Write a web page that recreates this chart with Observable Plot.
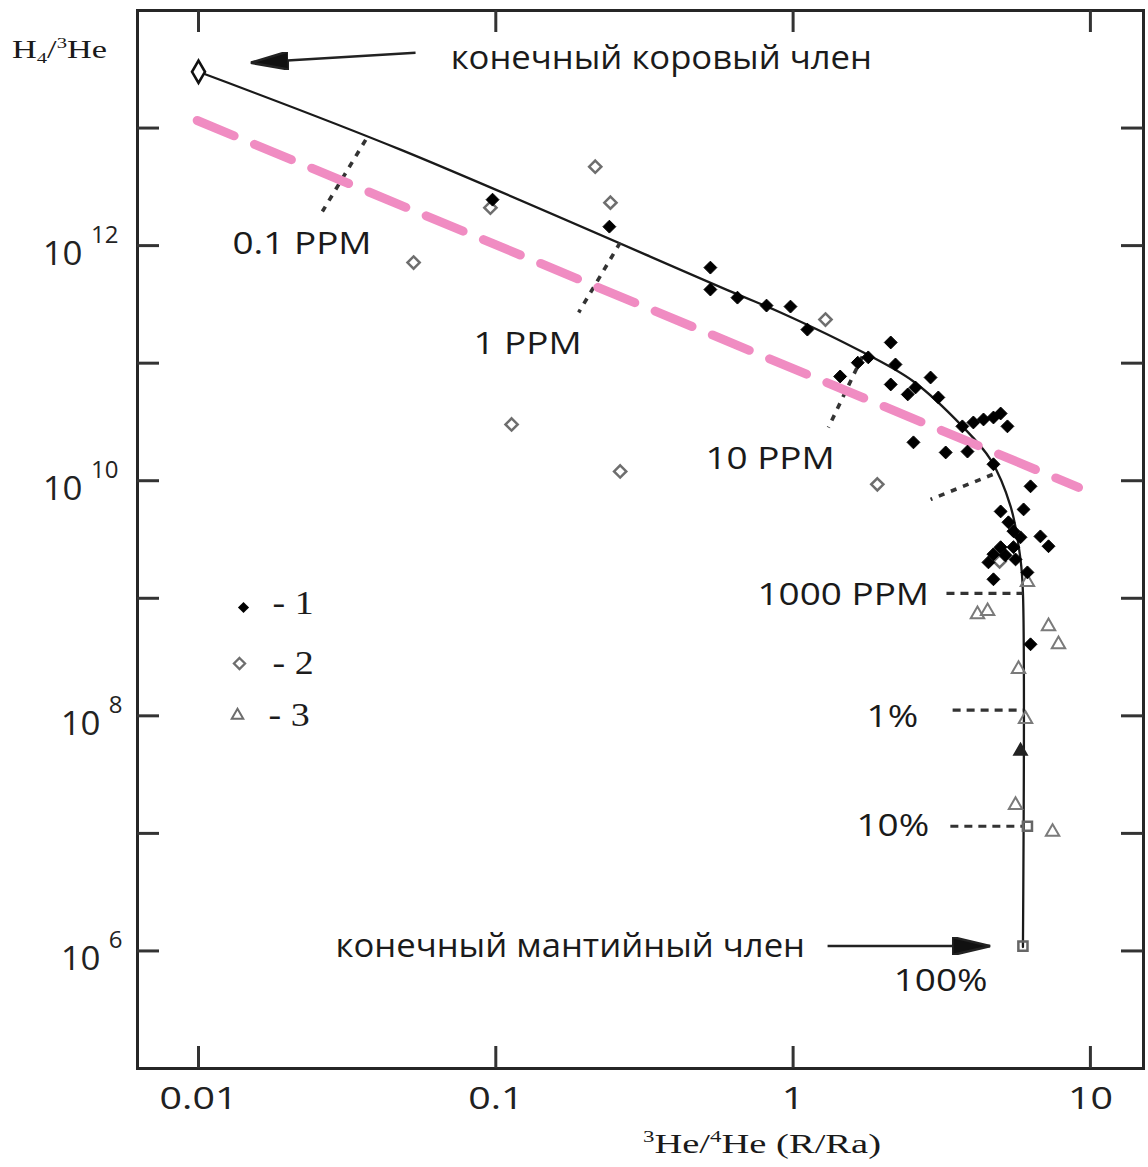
<!DOCTYPE html>
<html>
<head>
<meta charset="utf-8">
<script src="https://cdn.jsdelivr.net/npm/d3@7"></script>
<script src="https://cdn.jsdelivr.net/npm/@observablehq/plot@0.6"></script>
<style>
  html, body { margin: 0; padding: 0; background: #fff; overflow: hidden; }
  #chart { width: 1148px; height: 1167px; }
</style>
</head>
<body>
<div id="chart"></div>
<script>
// ---------- axis ticks ----------
const xTicks = [0.01, 0.1, 1, 10];
const xTickLabels = ["0.01", "0.1", "1", "10"];
const yTicks = [1e6, 1e7, 1e8, 1e9, 1e10, 1e11, 1e12, 1e13];
const yLabelTicks = [1e12, 1e10, 1e8, 1e6];
const yLabelExps = ["12", "10", "8", "6"];

// ---------- series 1 (filled diamonds) ----------
const s1x = [0.0975,0.241,0.527,0.527,0.65,0.814,0.98,1.117,2.13,1.79,1.65,1.44,2.21,2.13,2.43,2.58,2.90,3.08,3.71,4.04,4.37,4.72,4.99,5.26,2.54,3.26,3.86,4.72,6.29,5.96,4.99,5.30,5.51,5.82,6.79,7.23,4.99,4.72,5.18,5.51,6.14,4.72,6.29,5.60,4.54];
const s1y = [2.46e12,1.45e12,6.50e11,4.23e11,3.61e11,3.09e11,3.03e11,1.93e11,1.50e11,1.12e11,1.01e11,7.71e10,9.75e10,6.59e10,5.42e10,6.21e10,7.55e10,5.11e10,2.90e10,3.13e10,3.32e10,3.45e10,3.73e10,2.90e10,2.12e10,1.74e10,1.77e10,1.38e10,8.96e9,5.70e9,5.48e9,4.43e9,3.72e9,3.30e9,3.36e9,2.77e9,2.72e9,2.37e9,2.32e9,2.72e9,1.66e9,1.45e9,4.06e8,2.14e9,2.02e9];

// ---------- series 2 (open diamonds) ----------
const s2x = [0.0959,0.0529,0.216,0.243,0.113,0.262,1.285,1.92,4.95];
const s2y = [2.10e12,7.18e11,4.69e12,2.32e12,3.01e10,1.20e10,2.35e11,9.31e9,2.06e9];

// ---------- series 3 (open triangles) ----------
const s3x = [6.14,4.17,4.51,7.23,7.81,5.73,6.05,5.60,7.46];
const s3y = [1.37e9,7.31e8,7.76e8,5.78e8,4.06e8,2.50e8,9.38e7,1.74e7,1.03e7];
const s3filledX = [5.82];
const s3filledY = [5.01e7];

// ---------- squares ----------
const sqX = [6.14, 5.93];
const sqY = [1.15e7, 1.10e6];

// ---------- end members ----------
const crustX = [0.01];
const crustY = [3.01e13];

// ---------- mixing curve ----------
const curveX = [0.01,0.0478,0.630,0.907,1.725,2.54,3.71,4.61,5.39,5.82,5.93,5.93];
const curveY = [3.01e13,6.55e12,3.98e11,2.70e11,1.23e11,6.98e10,2.90e10,1.52e10,6.05e9,2.14e9,1.12e9,1.08e6];

// ---------- pink dashed line ----------
const pinkX = [0.0099, 9.12];
const pinkY = [1.16e13, 8.77e9];

// ---------- PPM dotted marks ----------
const ppmX1 = [0.0365, 0.262, 1.71, 4.69];
const ppmY1 = [7.94e12, 1.06e12, 1.14e11, 1.13e10];
const ppmX2 = [0.0261, 0.190, 1.315, 2.90];
const ppmY2 = [1.95e12, 2.70e11, 2.84e10, 6.93e9];
const hX1 = [3.28, 3.44, 3.38];
const hX2 = [5.93, 5.93, 5.93];
const hY = [1.10e9, 1.12e8, 1.15e7];

// ---------- annotation labels ----------
const labelText = ["0.1 PPM", "1 PPM", "10 PPM", "1000 PPM", "1%", "10%", "100%"];
const labelX = [0.01301, 0.0841, 0.507, 0.759, 1.766, 1.634, 2.18];
const labelY = [1.04e12, 1.44e11, 1.52e10, 1.06e9, 9.75e7, 1.15e7, 5.56e5];

const memberText = ["конечный коровый член", "конечный мантийный член"];
const memberX = [0.0705, 0.0289];
const memberY = [3.88e13, 1.10e6];

// ---------- arrows ----------
const arrowX1 = [0.0537, 1.306];
const arrowY1 = [4.37e13, 1.10e6];
const arrowX2 = [0.01497, 4.61];
const arrowY2 = [3.59e13, 1.10e6];

// ---------- legend ----------
const legendLabels = ["- 1", "- 2", "- 3"];

// ===================================================
const W = 1148, H = 1167, mL = 137, mR = 5, mT = 10, mB = 99;
const fw = W - mL - mR, fh = H - mT - mB;
const tickLen = 22;
const sans = "'Open Sans', 'Noto Sans', sans-serif";
const serif = "'Liberation Serif', 'DejaVu Serif', serif";
// distinct text colours (near-black) used to find each label group afterwards
const C_XT = "#212121", C_YB = "#222222", C_YE = "#232323", C_PPM = "#1a1a1a", C_MEM = "#1b1b1b", C_LEG = "#1c1c1c";

const headMarker = (color, context) =>
  d3.create("svg:marker")
    .attr("viewBox", "0 -9 38 18")
    .attr("markerUnits", "userSpaceOnUse")
    .attr("markerWidth", 38)
    .attr("markerHeight", 18)
    .attr("refX", 38)
    .attr("refY", 0)
    .attr("orient", "auto")
    .call(m => m.append("path").attr("d", "M0,-9L38,0L0,9Z").attr("fill", "#111"))
    .node();

const marks = [
  Plot.frame({stroke: "#262626", strokeWidth: 3}),
  Plot.tickY(yTicks, {y: d => d, insetRight: fw - tickLen, stroke: "#333", strokeWidth: 3}),
  Plot.tickY(yTicks, {y: d => d, insetLeft: fw - tickLen, stroke: "#333", strokeWidth: 3}),
  Plot.tickX(xTicks, {x: d => d, insetTop: fh - tickLen, stroke: "#333", strokeWidth: 3}),
  Plot.tickX(xTicks, {x: d => d, insetBottom: fh - tickLen, stroke: "#333", strokeWidth: 3}),
  Plot.text(xTicks, {x: d => d, text: (d, i) => xTickLabels[i], frameAnchor: "bottom", lineAnchor: "top", dy: 18,
    fontSize: 31, fontFamily: sans, fill: C_XT}),
];

yLabelTicks.forEach((t, i) => {
  const two = yLabelExps[i].length === 2;
  marks.push(Plot.text([t], {y: d => d, text: () => "10", frameAnchor: "left", textAnchor: "end", lineAnchor: "bottom",
    dx: (two ? 82 : 100) - mL, dy: 19, fontSize: 32, fontFamily: sans, fill: C_YB}));
  marks.push(Plot.text([t], {y: d => d, text: () => yLabelExps[i], frameAnchor: "left", textAnchor: "end", lineAnchor: "bottom",
    dx: (two ? 118 : 122) - mL, dy: -3, fontSize: 24, fontFamily: sans, fill: C_YE}));
});

marks.push(
  // mixing curve
  Plot.line(curveX, {x: curveX, y: curveY, curve: "catmull-rom", stroke: "#1a1a1a", strokeWidth: 2.3}),
  // PPM dotted marks
  Plot.link(ppmX1, {x1: ppmX1, y1: ppmY1, x2: ppmX2, y2: ppmY2, stroke: "#333", strokeWidth: 3.6, strokeDasharray: "6,7"}),
  Plot.link(hX1, {x1: hX1, y1: hY, x2: hX2, y2: hY, stroke: "#333", strokeWidth: 3.2, strokeDasharray: "8,6"}),
  // pink dashed
  Plot.line(pinkX, {x: pinkX, y: pinkY, stroke: "#f08cc2", strokeWidth: 9, strokeDasharray: "40,22"}),
  // points
  Plot.dot(s2x, {x: s2x, y: s2y, symbol: "diamond2", r: 5.5, stroke: "#6e6e6e", strokeWidth: 2.5, fill: "none"}),
  Plot.dot(s3x, {x: s3x, y: s3y, symbol: "triangle2", r: 6.4, stroke: "#7a7a7a", strokeWidth: 2, fill: "none"}),
  Plot.dot(s3filledX, {x: s3filledX, y: s3filledY, symbol: "triangle2", r: 6, stroke: "#222", strokeWidth: 2, fill: "#222"}),
  Plot.dot(sqX, {x: sqX, y: sqY, symbol: "square2", r: 5.8, stroke: "#666", strokeWidth: 2.5, fill: "none"}),
  Plot.dot(s1x, {x: s1x, y: s1y, symbol: "diamond2", r: 5.8, fill: "#000", stroke: "#000", strokeWidth: 1}),
  Plot.dot(crustX, {x: crustX, y: crustY, symbol: "diamond", r: 6.8, stroke: "#111", strokeWidth: 2.6, fill: "white"}),
  // arrows
  Plot.link(arrowX1, {x1: arrowX1, y1: arrowY1, x2: arrowX2, y2: arrowY2, stroke: "#222", strokeWidth: 2.5, markerEnd: headMarker}),
  // labels
  Plot.text(labelText, {x: labelX, y: labelY, text: labelText, textAnchor: "start", lineAnchor: "middle",
    fontSize: 31, fontFamily: sans, fill: C_PPM}),
  Plot.text(memberText, {x: memberX, y: memberY, text: memberText, textAnchor: "start", lineAnchor: "middle",
    fontSize: 33, fontFamily: sans, fill: C_MEM}),
  // legend
  Plot.dot([0], {frameAnchor: "top-left", dx: 106, dy: 597, symbol: "diamond2", r: 5, fill: "#000"}),
  Plot.dot([0], {frameAnchor: "top-left", dx: 102, dy: 653, symbol: "diamond2", r: 5, stroke: "#6e6e6e", strokeWidth: 2.3, fill: "none"}),
  Plot.dot([0], {frameAnchor: "top-left", dx: 100, dy: 705, symbol: "triangle2", r: 5.5, stroke: "#6e6e6e", strokeWidth: 2, fill: "none"})
);
[593, 653, 705].forEach((dy, i) => {
  marks.push(Plot.text([legendLabels[i]], {frameAnchor: "top-left", dx: i === 2 ? 131 : 135, dy, text: d => d,
    textAnchor: "start", lineAnchor: "middle", fontSize: 33, fontFamily: serif, fill: C_LEG}));
});

const chart = Plot.plot({
  width: W, height: H,
  marginLeft: mL, marginRight: mR, marginTop: mT, marginBottom: mB,
  x: {type: "log", domain: [Math.pow(10, -2.2052), Math.pow(10, 1.1786)], axis: null},
  y: {type: "log", domain: [1e5, 1e14], axis: null},
  style: {background: "white", overflow: "visible"},
  marks
});

document.getElementById("chart").appendChild(chart);

const svg = d3.select(chart);

// widen glyphs to match the reference's horizontally stretched lettering
function stretch(fill, k) {
  svg.selectAll(`g[fill="${fill}"] text`).each(function () {
    const L = this.getComputedTextLength();
    this.setAttribute("textLength", L * k);
    this.setAttribute("lengthAdjust", "spacingAndGlyphs");
  });
}
stretch(C_XT, 1.27);
stretch(C_YB, 1.09);
stretch(C_PPM, 1.19);
stretch(C_MEM, 1.05);
stretch(C_LEG, 1.15);

// axis titles with sub/superscripts
const yt = svg.append("text")
  .attr("x", 12).attr("y", 58).attr("text-anchor", "start").attr("font-weight", "normal")
  .attr("font-family", serif).attr("font-size", 25).attr("fill", "#1a1a1a")
  .attr("textLength", 95).attr("lengthAdjust", "spacingAndGlyphs");
yt.append("tspan").text("H");
yt.append("tspan").attr("font-size", 15).attr("dy", 5).text("4");
yt.append("tspan").attr("dy", -5).text("/");
yt.append("tspan").attr("font-size", 15).attr("dy", -10).text("3");
yt.append("tspan").attr("dy", 10).text("He");

const xt = svg.append("text")
  .attr("x", 643).attr("y", 1153).attr("text-anchor", "start").attr("font-weight", "normal")
  .attr("font-family", serif).attr("font-size", 27).attr("fill", "#1a1a1a")
  .attr("textLength", 238).attr("lengthAdjust", "spacingAndGlyphs");
xt.append("tspan").attr("font-size", 16).attr("dy", -11).text("3");
xt.append("tspan").attr("dy", 11).text("He/");
xt.append("tspan").attr("font-size", 16).attr("dy", -11).text("4");
xt.append("tspan").attr("dy", 11).text("He (R/Ra)");
</script>
</body>
</html>
